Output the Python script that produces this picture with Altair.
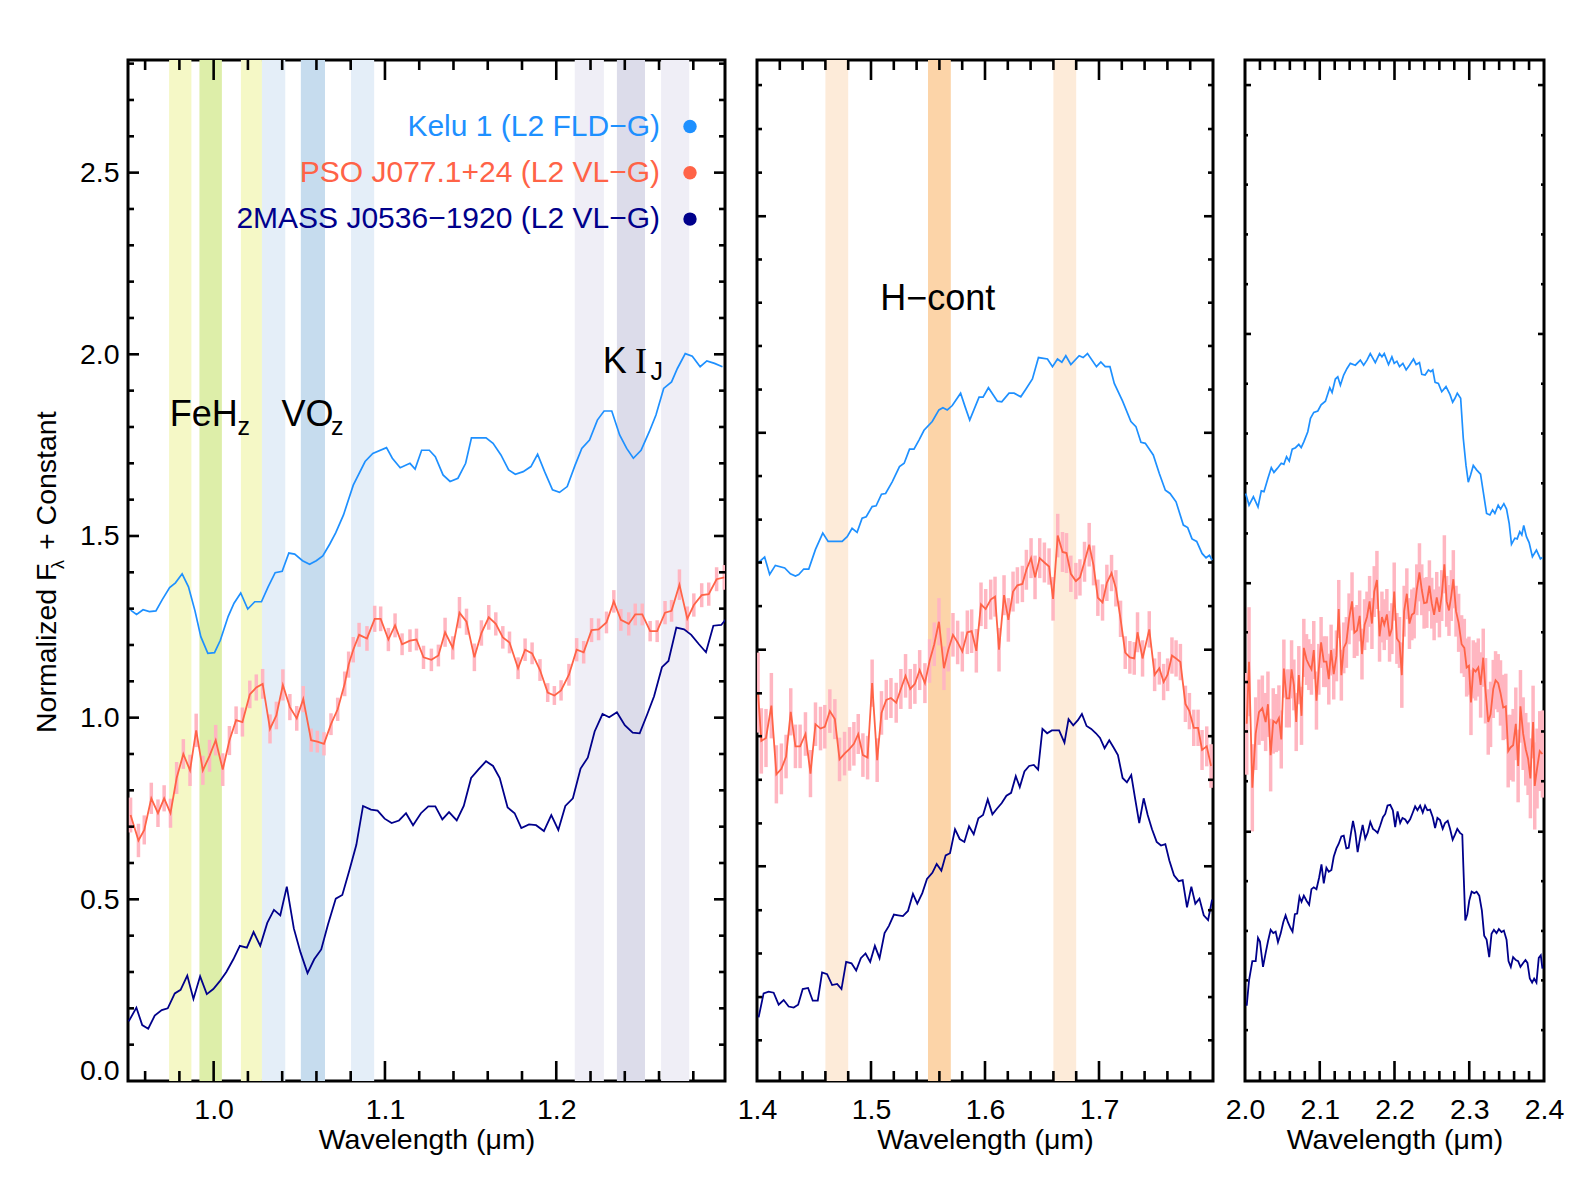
import altair as alt
import pandas as pd

FONT = "Liberation Sans"
SERIF = "Liberation Serif"
BLUE = "#1E90FF"
RED = "#FF6347"
PINK = "#FFB6C1"
NAVY = "#00008B"

PLOT_H = 1021
J_W, H_W, K_W = 597, 456, 299
Y_DOMAIN = [0.0, 2.81]

# ---------------- J band ----------------
j_kelu_wl = [0.9515, 0.955, 0.9588, 0.9625, 0.9663, 0.970, 0.9743, 0.9777, 0.9816, 0.9853, 0.9891, 0.9925, 0.9966,
             1.0005, 1.0039, 1.0085, 1.0119, 1.0158, 1.0199, 1.0240, 1.0279, 1.0318, 1.0359, 1.0400, 1.0439,
             1.0473, 1.0519, 1.0560, 1.0599, 1.0637, 1.0678, 1.0713, 1.0758, 1.0815, 1.0884, 1.0929, 1.1009,
             1.1043, 1.1089, 1.1146, 1.1176, 1.1214, 1.1259, 1.1294, 1.1339, 1.1380, 1.1426, 1.1471, 1.1505,
             1.1590, 1.1631, 1.1677, 1.1722, 1.1761, 1.1807, 1.1852, 1.1891, 1.1932, 1.1978, 1.2019, 1.2064,
             1.2110, 1.2149, 1.2194, 1.2240, 1.2279, 1.2324, 1.2370, 1.2411, 1.2450, 1.2495, 1.2543, 1.2582,
             1.2627, 1.2673, 1.2707, 1.2753, 1.2794, 1.2840, 1.2879, 1.2924, 1.2970]
j_kelu_fl = [1.296, 1.284, 1.297, 1.292, 1.294, 1.325, 1.358, 1.371, 1.396, 1.360, 1.294, 1.223, 1.177,
             1.179, 1.213, 1.279, 1.315, 1.343, 1.299, 1.319, 1.319, 1.360, 1.399, 1.403, 1.453,
             1.450, 1.432, 1.422, 1.432, 1.445, 1.478, 1.509, 1.558, 1.640, 1.705, 1.727, 1.743,
             1.714, 1.688, 1.700, 1.684, 1.736, 1.736, 1.718, 1.668, 1.650, 1.659, 1.700, 1.770,
             1.770, 1.755, 1.723, 1.682, 1.670, 1.677, 1.691, 1.725, 1.677, 1.627, 1.620, 1.636,
             1.695, 1.741, 1.764, 1.819, 1.844, 1.844, 1.778, 1.741, 1.714, 1.736, 1.787, 1.833,
             1.906, 1.924, 1.961, 2.002, 1.995, 1.966, 1.982, 1.975, 1.966]

j_pso_wl = [0.9515, 0.9561, 0.9595, 0.9636, 0.9675, 0.9711, 0.9748, 0.9784, 0.9823, 0.9862,
            0.9898, 0.9937, 0.9976, 1.0012, 1.0053, 1.0092, 1.0131, 1.0168, 1.0211, 1.0249,
            1.0286, 1.0329, 1.0366, 1.0404, 1.0445, 1.0485, 1.0523, 1.0569, 1.0605, 1.0644,
            1.0685, 1.0724, 1.0765, 1.0788, 1.0815, 1.0849, 1.0895, 1.0940, 1.0975, 1.1020,
            1.1059, 1.1100, 1.1146, 1.1184, 1.1225, 1.1271, 1.1312, 1.1351, 1.1396, 1.1435,
            1.1476, 1.1522, 1.1563, 1.1606, 1.1647, 1.1688, 1.1727, 1.1777, 1.1818, 1.1859,
            1.1905, 1.1950, 1.1989, 1.2028, 1.2074, 1.2119, 1.2160, 1.2206, 1.2247, 1.2293,
            1.2336, 1.2377, 1.2423, 1.2461, 1.2502, 1.2548, 1.2589, 1.2635, 1.2673, 1.2719,
            1.2765, 1.2803, 1.2849, 1.2890, 1.2936, 1.2981]
j_pso_fl = [0.732, 0.662, 0.691, 0.778, 0.737, 0.778, 0.737, 0.834, 0.900, 0.855,
            0.965, 0.855, 0.895, 0.938, 0.857, 0.937, 0.993, 0.988, 1.064, 1.083,
            1.093, 0.969, 1.006, 1.090, 1.029, 0.998, 1.051, 0.938, 0.934, 0.928,
            0.982, 1.023, 1.093, 1.146, 1.187, 1.228, 1.218, 1.272, 1.272, 1.215,
            1.254, 1.202, 1.212, 1.215, 1.166, 1.159, 1.171, 1.235, 1.192, 1.289,
            1.264, 1.166, 1.233, 1.276, 1.258, 1.221, 1.207, 1.136, 1.187, 1.177,
            1.131, 1.069, 1.061, 1.075, 1.118, 1.187, 1.180, 1.241, 1.243, 1.262,
            1.320, 1.269, 1.258, 1.284, 1.284, 1.238, 1.238, 1.289, 1.294, 1.366,
            1.272, 1.310, 1.337, 1.340, 1.381, 1.386]
j_pso_err = [0.048, 0.046, 0.040, 0.043, 0.038, 0.036, 0.040, 0.044, 0.041, 0.043,
             0.046, 0.040, 0.044, 0.042, 0.045, 0.040, 0.038, 0.040, 0.038, 0.036,
             0.041, 0.040, 0.038, 0.043, 0.036, 0.034, 0.036, 0.032, 0.030, 0.032,
             0.030, 0.032, 0.034, 0.036, 0.035, 0.033, 0.034, 0.036, 0.034, 0.032,
             0.033, 0.030, 0.031, 0.030, 0.032, 0.031, 0.030, 0.040, 0.032, 0.043,
             0.036, 0.038, 0.035, 0.034, 0.032, 0.031, 0.030, 0.030, 0.031, 0.030,
             0.030, 0.026, 0.026, 0.028, 0.030, 0.032, 0.031, 0.033, 0.030, 0.030,
             0.031, 0.030, 0.032, 0.030, 0.030, 0.028, 0.030, 0.032, 0.030, 0.042,
             0.034, 0.032, 0.033, 0.032, 0.033, 0.034]

j_mass_wl = [0.9504, 0.9549, 0.9583, 0.9618, 0.9656, 0.9697, 0.9732, 0.9773, 0.9807, 0.9846,
             0.9882, 0.9921, 0.9960, 0.9998, 1.0035, 1.0074, 1.0115, 1.0153, 1.0194, 1.0233,
             1.0272, 1.0313, 1.0352, 1.0389, 1.0427, 1.0468, 1.0507, 1.0548, 1.0587, 1.0628,
             1.0667, 1.0713, 1.0751, 1.0792, 1.0833, 1.0872, 1.0918, 1.0957, 1.0998, 1.1039,
             1.1082, 1.1123, 1.1164, 1.1210, 1.1253, 1.1294, 1.1335, 1.1374, 1.1419, 1.1460,
             1.1503, 1.1545, 1.1590, 1.1631, 1.1670, 1.1716, 1.1757, 1.1796, 1.1841, 1.1882,
             1.1928, 1.1971, 1.2012, 1.2053, 1.2097, 1.2142, 1.2184, 1.2224, 1.2270, 1.2309,
             1.2354, 1.2400, 1.2446, 1.2487, 1.2530, 1.2571, 1.2617, 1.2655, 1.2701, 1.2746,
             1.2788, 1.2833, 1.2874, 1.2917, 1.2963, 1.3004]
j_mass_fl = [0.164, 0.202, 0.154, 0.144, 0.180, 0.195, 0.200, 0.241, 0.251, 0.290,
             0.226, 0.288, 0.239, 0.253, 0.274, 0.300, 0.335, 0.372, 0.367, 0.410,
             0.372, 0.435, 0.471, 0.456, 0.535, 0.420, 0.354, 0.297, 0.335, 0.362,
             0.430, 0.502, 0.512, 0.579, 0.650, 0.757, 0.747, 0.744, 0.722, 0.710,
             0.717, 0.737, 0.704, 0.737, 0.756, 0.756, 0.720, 0.740, 0.717, 0.757,
             0.834, 0.857, 0.880, 0.867, 0.834, 0.753, 0.737, 0.696, 0.706, 0.704,
             0.688, 0.732, 0.691, 0.757, 0.778, 0.860, 0.890, 0.962, 1.010, 1.001,
             1.015, 0.979, 0.959, 0.957, 1.008, 1.059, 1.139, 1.156, 1.248, 1.243,
             1.228, 1.202, 1.180, 1.253, 1.255, 1.279]

# ---------------- H band ----------------
h_kelu_wl = [1.4014, 1.4067, 1.4111, 1.4161, 1.4243, 1.4293, 1.4337, 1.4366, 1.4410, 1.4454, 1.4513,
             1.4577, 1.4624, 1.4747, 1.4791, 1.4834, 1.4878, 1.4922, 1.4958, 1.5010, 1.5045, 1.5092,
             1.5128, 1.5186, 1.5250, 1.5291, 1.5338, 1.5377, 1.5421, 1.5465, 1.5537, 1.5596, 1.5631,
             1.5669, 1.5713, 1.5786, 1.5825, 1.5866, 1.5948, 1.5983, 1.6030, 1.6109, 1.6147, 1.6211,
             1.6255, 1.6314, 1.6358, 1.6416, 1.6469, 1.6548, 1.6592, 1.6636, 1.6674, 1.6709, 1.6753,
             1.6826, 1.6861, 1.6899, 1.6978, 1.7016, 1.7055, 1.7096, 1.7134, 1.7207, 1.7280, 1.7324,
             1.7368, 1.7406, 1.7476, 1.7529, 1.7582, 1.7623, 1.7676, 1.7740, 1.7778, 1.7816, 1.7857,
             1.7904, 1.7939, 1.7969, 1.7992]
h_kelu_fl = [1.427, 1.442, 1.394, 1.419, 1.412, 1.396, 1.390, 1.394, 1.409, 1.409, 1.463,
             1.508, 1.485, 1.485, 1.498, 1.521, 1.510, 1.549, 1.553, 1.581, 1.583, 1.615,
             1.617, 1.649, 1.691, 1.700, 1.739, 1.739, 1.764, 1.791, 1.815, 1.847, 1.853,
             1.847, 1.859, 1.893, 1.856, 1.819, 1.882, 1.882, 1.908, 1.871, 1.869, 1.893,
             1.893, 1.883, 1.904, 1.932, 1.991, 1.987, 1.966, 1.987, 1.978, 1.996, 1.972,
             1.996, 1.991, 2.002, 1.966, 1.979, 1.966, 1.966, 1.920, 1.871, 1.815, 1.801,
             1.758, 1.755, 1.723, 1.672, 1.626, 1.617, 1.594, 1.530, 1.523, 1.492, 1.485,
             1.452, 1.440, 1.447, 1.434]

h_pso_wl = [1.4009, 1.4038, 1.4079, 1.4126, 1.4170, 1.4214, 1.4255, 1.4296, 1.4337, 1.4378,
            1.4425, 1.4469, 1.4513, 1.4557, 1.4595, 1.4639, 1.4683, 1.4724, 1.4768, 1.4812,
            1.4850, 1.4888, 1.4929, 1.4970, 1.5010, 1.5054, 1.5092, 1.5134, 1.5175, 1.5221,
            1.5262, 1.5303, 1.5344, 1.5385, 1.5427, 1.5473, 1.5514, 1.5555, 1.5596, 1.5640,
            1.5678, 1.5719, 1.5760, 1.5801, 1.5845, 1.5883, 1.5924, 1.5965, 1.6006, 1.6050,
            1.6088, 1.6123, 1.6167, 1.6205, 1.6246, 1.6284, 1.6328, 1.6363, 1.6404, 1.6439,
            1.6480, 1.6521, 1.6562, 1.6597, 1.6638, 1.6680, 1.6715, 1.6753, 1.6797, 1.6833,
            1.6873, 1.6914, 1.6952, 1.6990, 1.7031, 1.7069, 1.7110, 1.7148, 1.7189, 1.7230,
            1.7271, 1.7309, 1.7338, 1.7382, 1.7441, 1.7488, 1.7529, 1.7567, 1.7602, 1.7640,
            1.7676, 1.7714, 1.7758, 1.7793, 1.7831, 1.7869, 1.7904, 1.7945, 1.7983]
h_pso_fl = [1.069, 0.936, 0.944, 1.033, 0.844, 0.859, 0.893, 1.016, 0.921, 0.921,
            0.955, 0.846, 0.982, 0.970, 0.975, 1.018, 0.996, 0.885, 0.901, 0.914,
            0.928, 0.955, 0.897, 0.890, 1.095, 0.883, 1.013, 1.049, 1.054, 1.041,
            1.079, 1.115, 1.079, 1.093, 1.131, 1.095, 1.156, 1.202, 1.264, 1.136,
            1.187, 1.228, 1.207, 1.182, 1.235, 1.238, 1.184, 1.312, 1.299, 1.325,
            1.333, 1.187, 1.337, 1.269, 1.347, 1.364, 1.368, 1.407, 1.439, 1.386,
            1.439, 1.427, 1.416, 1.327, 1.501, 1.456, 1.453, 1.396, 1.376, 1.386,
            1.429, 1.476, 1.419, 1.330, 1.317, 1.371, 1.398, 1.356, 1.272, 1.179,
            1.166, 1.163, 1.235, 1.163, 1.243, 1.118, 1.136, 1.098, 1.118, 1.171,
            1.163, 1.153, 1.038, 1.018, 0.972, 0.972, 0.911, 0.921, 0.867]
h_pso_err = [0.11, 0.09, 0.08, 0.09, 0.08, 0.07, 0.06, 0.065, 0.06, 0.06,
             0.06, 0.065, 0.06, 0.06, 0.06, 0.06, 0.055, 0.06, 0.06, 0.06,
             0.06, 0.055, 0.06, 0.06, 0.065, 0.06, 0.06, 0.055, 0.055, 0.055,
             0.055, 0.06, 0.055, 0.055, 0.055, 0.055, 0.06, 0.06, 0.065, 0.06,
             0.06, 0.06, 0.06, 0.055, 0.06, 0.06, 0.06, 0.06, 0.055, 0.055,
             0.055, 0.06, 0.055, 0.06, 0.055, 0.05, 0.05, 0.055, 0.055, 0.06,
             0.055, 0.055, 0.05, 0.06, 0.06, 0.055, 0.055, 0.05, 0.05, 0.05,
             0.055, 0.06, 0.055, 0.05, 0.05, 0.05, 0.05, 0.05, 0.05, 0.045,
             0.045, 0.045, 0.055, 0.05, 0.05, 0.045, 0.045, 0.05, 0.045, 0.05,
             0.05, 0.05, 0.05, 0.05, 0.05, 0.05, 0.055, 0.055, 0.06]

h_mass_wl = [1.4014, 1.4058, 1.4102, 1.4146, 1.4190, 1.4234, 1.4278, 1.4322, 1.4361, 1.4401,
             1.4448, 1.4489, 1.4533, 1.4571, 1.4615, 1.4659, 1.4703, 1.4741, 1.4782, 1.4829,
             1.4870, 1.4911, 1.4952, 1.4993, 1.5034, 1.5075, 1.5119, 1.5157, 1.5201, 1.5239,
             1.5280, 1.5324, 1.5368, 1.5406, 1.5450, 1.5491, 1.5538, 1.5576, 1.5617, 1.5655,
             1.5693, 1.5737, 1.5778, 1.5819, 1.5860, 1.5901, 1.5942, 1.5983, 1.6024, 1.6065,
             1.6106, 1.6147, 1.6188, 1.6229, 1.6270, 1.6305, 1.6346, 1.6387, 1.6428, 1.6466,
             1.6504, 1.6545, 1.6586, 1.6650, 1.6697, 1.6733, 1.6774, 1.6815, 1.6850, 1.6891,
             1.6932, 1.6973, 1.7009, 1.7049, 1.7090, 1.7128, 1.7166, 1.7207, 1.7245, 1.7283,
             1.7318, 1.7353, 1.7392, 1.7427, 1.7465, 1.7506, 1.7544, 1.7582, 1.7617, 1.7658,
             1.7699, 1.7734, 1.7772, 1.7810, 1.7845, 1.7881, 1.7919, 1.7957, 1.7992]
h_mass_fl = [0.175, 0.241, 0.246, 0.243, 0.210, 0.223, 0.205, 0.202, 0.210, 0.253,
             0.256, 0.221, 0.221, 0.299, 0.294, 0.264, 0.267, 0.253, 0.328, 0.324,
             0.304, 0.338, 0.351, 0.328, 0.372, 0.338, 0.407, 0.427, 0.458, 0.456,
             0.454, 0.468, 0.515, 0.488, 0.517, 0.556, 0.573, 0.597, 0.579, 0.621,
             0.627, 0.693, 0.666, 0.658, 0.701, 0.679, 0.723, 0.732, 0.775, 0.734,
             0.750, 0.765, 0.785, 0.793, 0.839, 0.809, 0.852, 0.867, 0.870, 0.857,
             0.969, 0.957, 0.965, 0.965, 0.931, 0.996, 0.979, 0.993, 1.010, 0.977,
             0.969, 0.957, 0.944, 0.916, 0.938, 0.918, 0.897, 0.834, 0.822, 0.842,
             0.775, 0.710, 0.778, 0.732, 0.693, 0.658, 0.648, 0.652, 0.607, 0.566,
             0.550, 0.553, 0.478, 0.535, 0.488, 0.502, 0.456, 0.443, 0.499]

# ---------------- K band ----------------
k_kelu_wl = [2.0009, 2.0054, 2.0112, 2.0174, 2.0218, 2.0254, 2.0307, 2.0352, 2.0387, 2.0432,
             2.0485, 2.0520, 2.0556, 2.0592, 2.0632, 2.0676, 2.0720, 2.0752, 2.0787, 2.0840,
             2.0876, 2.0920, 2.0974, 2.1018, 2.1076, 2.1134, 2.1165, 2.1209, 2.1241, 2.1276,
             2.1320, 2.1365, 2.1409, 2.1476, 2.1543, 2.1587, 2.1632, 2.1676, 2.1743, 2.1800,
             2.1832, 2.1863, 2.1920, 2.1965, 2.1996, 2.2032, 2.2067, 2.2112, 2.2156, 2.2200,
             2.2254, 2.2289, 2.2334, 2.2365, 2.2409, 2.2454, 2.2485, 2.2512, 2.2543, 2.2587,
             2.2632, 2.2689, 2.2743, 2.2778, 2.2809, 2.2840, 2.2885, 2.2920, 2.2956, 2.2987,
             2.3018, 2.3054, 2.3098, 2.3151, 2.3187, 2.3232, 2.3276, 2.3312, 2.3343, 2.3387,
             2.3419, 2.3463, 2.3499, 2.3534, 2.3565, 2.3610, 2.3641, 2.3676, 2.3703, 2.3729,
             2.3765, 2.3801, 2.3845, 2.3899, 2.3952, 2.3979]
k_kelu_fl = [1.617, 1.585, 1.608, 1.580, 1.624, 1.622, 1.659, 1.688, 1.675, 1.686,
             1.700, 1.697, 1.718, 1.706, 1.739, 1.743, 1.752, 1.743, 1.759, 1.787,
             1.824, 1.840, 1.844, 1.861, 1.871, 1.908, 1.895, 1.932, 1.938, 1.915,
             1.943, 1.961, 1.975, 1.970, 1.984, 1.970, 1.984, 2.002, 1.977, 2.002,
             1.993, 2.002, 1.972, 1.993, 1.975, 1.981, 1.966, 1.975, 1.957, 1.970,
             1.987, 1.972, 1.977, 1.945, 1.943, 1.957, 1.952, 1.957, 1.923, 1.920,
             1.897, 1.911, 1.889, 1.868, 1.879, 1.893, 1.879, 1.769, 1.695, 1.648,
             1.668, 1.694, 1.682, 1.670, 1.622, 1.562, 1.558, 1.572, 1.562, 1.585,
             1.574, 1.589, 1.574, 1.535, 1.477, 1.494, 1.492, 1.512, 1.503, 1.529,
             1.498, 1.482, 1.443, 1.461, 1.437, 1.441]

k_pso_wl = [2.0023, 2.0054, 2.0098, 2.0143, 2.0187, 2.0232, 2.0276, 2.0307, 2.0343, 2.0378,
            2.0418, 2.0454, 2.0485, 2.0520, 2.0556, 2.0592, 2.0623, 2.0654, 2.0685, 2.0720,
            2.0756, 2.0787, 2.0823, 2.0854, 2.0889, 2.0920, 2.0956, 2.0987, 2.1018, 2.1054,
            2.1089, 2.1121, 2.1152, 2.1187, 2.1223, 2.1254, 2.1289, 2.1321, 2.1356, 2.1392,
            2.1432, 2.1463, 2.1498, 2.1534, 2.1565, 2.1600, 2.1632, 2.1667, 2.1698, 2.1729,
            2.1765, 2.1800, 2.1832, 2.1863, 2.1898, 2.1934, 2.1965, 2.1996, 2.2032, 2.2067,
            2.2098, 2.2129, 2.2165, 2.2200, 2.2232, 2.2263, 2.2298, 2.2334, 2.2365, 2.2396,
            2.2432, 2.2467, 2.2498, 2.2530, 2.2565, 2.2601, 2.2632, 2.2667, 2.2698, 2.2729,
            2.2760, 2.2787, 2.2823, 2.2858, 2.2898, 2.2934, 2.2965, 2.2996, 2.3023, 2.3054,
            2.3085, 2.3121, 2.3152, 2.3187, 2.3218, 2.3254, 2.3285, 2.3321, 2.3352, 2.3387,
            2.3418, 2.3454, 2.3489, 2.3521, 2.3552, 2.3587, 2.3623, 2.3654, 2.3685, 2.3721,
            2.3756, 2.3787, 2.3818, 2.3854, 2.3876, 2.3907, 2.3943, 2.3979]
k_pso_fl = [0.983, 1.154, 0.807, 0.956, 1.015, 1.026, 0.988, 1.037, 0.897, 0.991,
            0.985, 0.999, 0.940, 1.135, 1.053, 1.053, 1.133, 1.090, 0.988, 1.117,
            1.005, 1.192, 1.160, 1.146, 1.133, 1.186, 1.047, 1.133, 1.207, 1.154,
            1.154, 1.106, 1.186, 1.120, 1.170, 1.299, 1.117, 1.192, 1.207, 1.272,
            1.320, 1.234, 1.240, 1.280, 1.175, 1.256, 1.277, 1.320, 1.259, 1.347,
            1.379, 1.224, 1.277, 1.256, 1.284, 1.224, 1.245, 1.347, 1.218, 1.207,
            1.117, 1.293, 1.341, 1.259, 1.283, 1.288, 1.352, 1.400, 1.352, 1.315,
            1.317, 1.363, 1.315, 1.283, 1.331, 1.291, 1.336, 1.422, 1.320, 1.295,
            1.336, 1.381, 1.293, 1.261, 1.202, 1.192, 1.138, 1.143, 1.042, 1.133,
            1.127, 1.138, 1.090, 1.165, 1.074, 0.988, 1.009, 1.079, 1.103, 1.095,
            1.068, 1.028, 1.031, 0.908, 0.918, 0.924, 0.983, 0.867, 1.031, 0.956,
            0.913, 0.887, 0.833, 0.988, 0.812, 0.860, 0.908, 0.900]
k_pso_err = [0.14, 0.15, 0.12, 0.10, 0.09, 0.09, 0.08, 0.09, 0.10, 0.09,
             0.08, 0.09, 0.08, 0.08, 0.08, 0.08, 0.08, 0.07, 0.08, 0.08,
             0.08, 0.08, 0.07, 0.07, 0.07, 0.08, 0.08, 0.07, 0.07, 0.07,
             0.07, 0.07, 0.07, 0.07, 0.07, 0.08, 0.07, 0.07, 0.07, 0.07,
             0.08, 0.07, 0.07, 0.07, 0.07, 0.07, 0.07, 0.07, 0.07, 0.07,
             0.08, 0.07, 0.07, 0.07, 0.07, 0.07, 0.07, 0.08, 0.07, 0.07,
             0.09, 0.07, 0.07, 0.07, 0.07, 0.07, 0.07, 0.08, 0.07, 0.07,
             0.07, 0.07, 0.07, 0.07, 0.07, 0.07, 0.07, 0.08, 0.07, 0.07,
             0.07, 0.08, 0.07, 0.08, 0.08, 0.08, 0.08, 0.08, 0.09, 0.08,
             0.08, 0.08, 0.09, 0.08, 0.09, 0.09, 0.09, 0.08, 0.08, 0.08,
             0.09, 0.09, 0.09, 0.10, 0.09, 0.10, 0.10, 0.10, 0.10, 0.10,
             0.10, 0.10, 0.11, 0.10, 0.12, 0.11, 0.11, 0.12]

k_mass_wl = [2.0023, 2.0054, 2.0098, 2.0143, 2.0174, 2.0200, 2.0241, 2.0276, 2.0307, 2.0343,
             2.0378, 2.0410, 2.0441, 2.0476, 2.0512, 2.0543, 2.0574, 2.0609, 2.0636, 2.0667,
             2.0698, 2.0729, 2.0756, 2.0787, 2.0823, 2.0858, 2.0889, 2.0920, 2.0956, 2.0992,
             2.1023, 2.1054, 2.1089, 2.1121, 2.1156, 2.1187, 2.1223, 2.1254, 2.1289, 2.1321,
             2.1356, 2.1387, 2.1418, 2.1445, 2.1476, 2.1507, 2.1543, 2.1574, 2.1609, 2.1641,
             2.1676, 2.1712, 2.1743, 2.1774, 2.1809, 2.1845, 2.1876, 2.1907, 2.1943, 2.1978,
             2.2009, 2.2041, 2.2076, 2.2107, 2.2143, 2.2174, 2.2209, 2.2245, 2.2276, 2.2307,
             2.2343, 2.2378, 2.2409, 2.2440, 2.2476, 2.2512, 2.2543, 2.2574, 2.2609, 2.2645,
             2.2676, 2.2712, 2.2743, 2.2778, 2.2809, 2.2840, 2.2876, 2.2907, 2.2920, 2.2947,
             2.2974, 2.3000, 2.3032, 2.3067, 2.3098, 2.3134, 2.3169, 2.3200, 2.3232, 2.3267,
             2.3298, 2.3330, 2.3365, 2.3396, 2.3432, 2.3463, 2.3499, 2.3525, 2.3556, 2.3587,
             2.3623, 2.3654, 2.3685, 2.3721, 2.3752, 2.3779, 2.3810, 2.3841, 2.3868, 2.3899,
             2.3930, 2.3957, 2.3979]
k_mass_fl = [0.207, 0.277, 0.330, 0.330, 0.394, 0.384, 0.314, 0.352, 0.384, 0.416,
             0.407, 0.411, 0.382, 0.405, 0.437, 0.456, 0.437, 0.421, 0.411, 0.459,
             0.461, 0.507, 0.493, 0.510, 0.496, 0.485, 0.528, 0.533, 0.528, 0.560,
             0.596, 0.544, 0.587, 0.576, 0.581, 0.617, 0.640, 0.653, 0.673, 0.675,
             0.640, 0.642, 0.683, 0.716, 0.683, 0.630, 0.673, 0.705, 0.667, 0.683,
             0.713, 0.694, 0.689, 0.683, 0.703, 0.726, 0.735, 0.758, 0.760, 0.745,
             0.699, 0.742, 0.710, 0.724, 0.720, 0.710, 0.720, 0.739, 0.756, 0.745,
             0.758, 0.739, 0.758, 0.745, 0.747, 0.726, 0.696, 0.724, 0.718, 0.694,
             0.710, 0.716, 0.694, 0.664, 0.678, 0.694, 0.683, 0.678, 0.598, 0.442,
             0.459, 0.496, 0.521, 0.517, 0.521, 0.510, 0.469, 0.400, 0.389, 0.341,
             0.405, 0.416, 0.407, 0.418, 0.410, 0.414, 0.389, 0.330, 0.314, 0.341,
             0.333, 0.330, 0.314, 0.325, 0.333, 0.325, 0.282, 0.271, 0.282, 0.271,
             0.339, 0.346, 0.309]

# ---------------- index bands ----------------
j_band_start = [0.974, 0.9917, 1.0159, 1.0282, 1.0509, 1.0802, 1.2108, 1.2354, 1.2612]
j_band_end = [0.987, 1.0048, 1.0282, 1.0418, 1.0650, 1.0937, 1.2278, 1.2518, 1.2776]
j_band_fill = ["#F5F8C6", "#DDEEA9", "#F5F8C6", "#E4EEF8", "#C6DCEE", "#E4EEF8",
               "#EFEEF6", "#DCDCEA", "#EFEEF6"]
h_band_start = [1.46, 1.55, 1.66]
h_band_end = [1.48, 1.57, 1.68]
h_band_fill = ["#FDEBD9", "#FCD4A8", "#FDEBD9"]

# ---------------- axes / ticks ----------------
j_xlabels = [1.0, 1.1, 1.2]
h_xlabels = [1.4, 1.5, 1.6, 1.7]
k_xlabels = [2.0, 2.1, 2.2, 2.3, 2.4]
j_xmajor = [1.0, 1.1, 1.2]
j_xminor = [0.96, 0.98, 1.02, 1.04, 1.06, 1.08, 1.12, 1.14, 1.16, 1.18, 1.22, 1.24, 1.26, 1.28]
h_xmajor = [1.5, 1.6, 1.7]
h_xminor = [1.42, 1.44, 1.46, 1.48, 1.52, 1.54, 1.56, 1.58, 1.62, 1.64, 1.66, 1.68,
            1.72, 1.74, 1.76, 1.78]
k_xmajor = [2.1, 2.2, 2.3]
k_xminor = [2.02, 2.04, 2.06, 2.08, 2.12, 2.14, 2.16, 2.18, 2.22, 2.24, 2.26, 2.28,
            2.32, 2.34, 2.36, 2.38]
j_ylabels = [0.0, 0.5, 1.0, 1.5, 2.0, 2.5]
j_ymajor = [0.5, 1.0, 1.5, 2.0, 2.5]
j_yminor = [0.1, 0.2, 0.3, 0.4, 0.6, 0.7, 0.8, 0.9, 1.1, 1.2, 1.3, 1.4, 1.6, 1.7, 1.8, 1.9,
            2.1, 2.2, 2.3, 2.4, 2.6, 2.7, 2.8]
h_ymajor = [0.591, 1.187, 1.784, 2.380]
h_yminor = [0.112, 0.231, 0.351, 0.470, 0.709, 0.829, 0.949, 1.067, 1.307, 1.427, 1.545,
            1.665, 1.903, 2.023, 2.142, 2.261, 2.500, 2.620, 2.741]
k_ymajor = [0.686, 1.370, 2.056, 2.741]
k_yminor = [0.140, 0.277, 0.413, 0.550, 0.825, 0.962, 1.098, 1.235, 1.507, 1.645, 1.782,
            1.919, 2.193, 2.330, 2.467, 2.603]

legend_names = ["Kelu 1 (L2 FLD\u2212G)", "PSO J077.1+24 (L2 VL\u2212G)", "2MASS J0536\u22121920 (L2 VL\u2212G)"]
legend_colors = [BLUE, RED, NAVY]


def line_df(wl, fl):
    n = min(len(wl), len(fl))
    return pd.DataFrame({"wl": wl[:n], "fl": fl[:n]})


def err_df(wl, fl, err):
    rows = list(zip(wl, fl, err))
    return pd.DataFrame({"wl": [r[0] for r in rows],
                         "lo": [r[1] - r[2] for r in rows],
                         "hi": [r[1] + r[2] for r in rows]})


def text_layer(txt, x, y, size, color="black", align="left", font=FONT, angle=None,
               baseline="alphabetic"):
    kw = dict(font=font, fontSize=size, color=color, align=align, baseline=baseline)
    if angle is not None:
        kw["angle"] = angle
    return alt.Chart(pd.DataFrame({"t": [txt]})).mark_text(**kw).encode(
        text="t:N", x=alt.value(x), y=alt.value(y))


def make_panel(width, xdom, xlabels, bands, kelu, pso, pso_err, mass,
               xmajor, xminor, ymajor, yminor, ylen_major, ylen_minor, show_y, extras):
    xs = alt.Scale(domain=xdom, nice=False, zero=False)
    ys = alt.Scale(domain=Y_DOMAIN, nice=False, zero=False)
    # the same axis definition is given to every layer so that they merge cleanly
    xaxis = alt.Axis(values=xlabels, format=".1f", title="Wavelength (\u03bcm)",
                     labelFont=FONT, labelFontSize=28.5, labelColor="black",
                     titleFont=FONT, titleFontSize=28.5, titleFontWeight="normal",
                     titleColor="black", domain=False, ticks=False, grid=False,
                     labelPadding=14, titlePadding=2, labelFlush=False, labelOverlap=False)
    if show_y:
        yaxis = alt.Axis(values=j_ylabels, format=".1f", title=None,
                         labelFont=FONT, labelFontSize=28.5, labelColor="black",
                         domain=False, ticks=False, grid=False, labelPadding=9,
                         labelFlush=True, labelFlushOffset=4, labelOverlap=False)
    else:
        yaxis = None

    def X(field):
        return alt.X(field, scale=xs, axis=xaxis)

    def Y(field):
        return alt.Y(field, scale=ys, axis=yaxis)

    layers = []
    if bands is not None:
        bdf = pd.DataFrame({"start": bands[0], "end": bands[1], "fill": bands[2]})
        layers.append(alt.Chart(bdf).mark_rect().encode(
            x=X("start:Q"), x2="end:Q",
            y=alt.value(0), y2=alt.value(PLOT_H),
            color=alt.Color("fill:N", scale=None)))

    layers.append(alt.Chart(err_df(pso[0], pso[1], pso_err)).mark_rule(
        color=PINK, strokeWidth=3.5, clip=True).encode(
        x=X("wl:Q"), y=Y("lo:Q"), y2="hi:Q"))

    for (wl, fl), col, sw in [(kelu, BLUE, 1.7), (pso, RED, 1.8), (mass, NAVY, 1.8)]:
        layers.append(alt.Chart(line_df(wl, fl)).mark_line(color=col, strokeWidth=sw, clip=True).encode(
            x=X("wl:Q"), y=Y("fl:Q")))

    def xt(vals, L):
        d = pd.DataFrame({"v": vals})
        bot = alt.Chart(d).mark_rule(color="black", strokeWidth=2.6).encode(
            x=X("v:Q"), y=alt.value(PLOT_H), y2=alt.value(PLOT_H - L))
        top = alt.Chart(d).mark_rule(color="black", strokeWidth=2.6).encode(
            x=X("v:Q"), y=alt.value(0), y2=alt.value(L))
        return [bot, top]

    def yt(vals, L):
        d = pd.DataFrame({"v": vals})
        left = alt.Chart(d).mark_rule(color="black", strokeWidth=2.6).encode(
            y=Y("v:Q"), x=alt.value(0), x2=alt.value(L))
        right = alt.Chart(d).mark_rule(color="black", strokeWidth=2.6).encode(
            y=Y("v:Q"), x=alt.value(width), x2=alt.value(width - L))
        return [left, right]

    layers += xt(xmajor, 20) + xt(xminor, 10)
    layers += yt(ymajor, ylen_major) + yt(yminor, ylen_minor)
    layers += extras
    return alt.layer(*layers).properties(width=width, height=PLOT_H)


# ---- annotations / legend for J panel ----
j_extras = [
    text_layer("FeH", 41.7, 366, 36),
    text_layer("z", 109.5, 375, 25),
    text_layer("VO", 153.5, 366, 36),
    text_layer("z", 203, 375, 25),
    text_layer("K", 474.7, 312.5, 36),
    text_layer("I", 507, 312.5, 36, font=SERIF),
    text_layer("J", 522.5, 320, 25),
    # y-axis title with subscript lambda
    text_layer("Normalized F", -72.5, 503.5, 28.5, align="right", angle=270),
    text_layer("\u03bb", -64, 509, 18, align="left", angle=270),
    text_layer("+ Constant", -72.5, 490, 28.5, align="left", angle=270),
]
for i, (name, col) in enumerate(zip(legend_names, legend_colors)):
    y = 66.5 + i * 46.3
    j_extras.append(text_layer(name, 532, y, 30, color=col, align="right", baseline="middle"))
    j_extras.append(alt.Chart(pd.DataFrame({"c": [col]})).mark_circle(
        size=180, opacity=1, color=col).encode(x=alt.value(562), y=alt.value(y)))

h_extras = [text_layer("H\u2212cont", 123.3, 250, 36)]

pj = make_panel(J_W, [0.95, 1.2985], j_xlabels, (j_band_start, j_band_end, j_band_fill),
                (j_kelu_wl, j_kelu_fl), (j_pso_wl, j_pso_fl), j_pso_err, (j_mass_wl, j_mass_fl),
                j_xmajor, j_xminor, j_ymajor, j_yminor, 11, 6, True, j_extras)
ph = make_panel(H_W, [1.4, 1.8], h_xlabels, (h_band_start, h_band_end, h_band_fill),
                (h_kelu_wl, h_kelu_fl), (h_pso_wl, h_pso_fl), h_pso_err, (h_mass_wl, h_mass_fl),
                h_xmajor, h_xminor, h_ymajor, h_yminor, 9, 5, False, h_extras)
pk = make_panel(K_W, [2.0, 2.4], k_xlabels, None,
                (k_kelu_wl, k_kelu_fl), (k_pso_wl, k_pso_fl), k_pso_err, (k_mass_wl, k_mass_fl),
                k_xmajor, k_xminor, k_ymajor, k_yminor, 6, 3, False, [])

chart = alt.hconcat(pj, ph, pk, spacing=32, bounds="flush").configure_view(
    stroke="black", strokeWidth=3
).properties(
    padding={"left": 31, "top": 57, "right": 5, "bottom": 5},
    background="white",
)

chart.save("out.html", embed_options={"renderer": "svg", "actions": False})
